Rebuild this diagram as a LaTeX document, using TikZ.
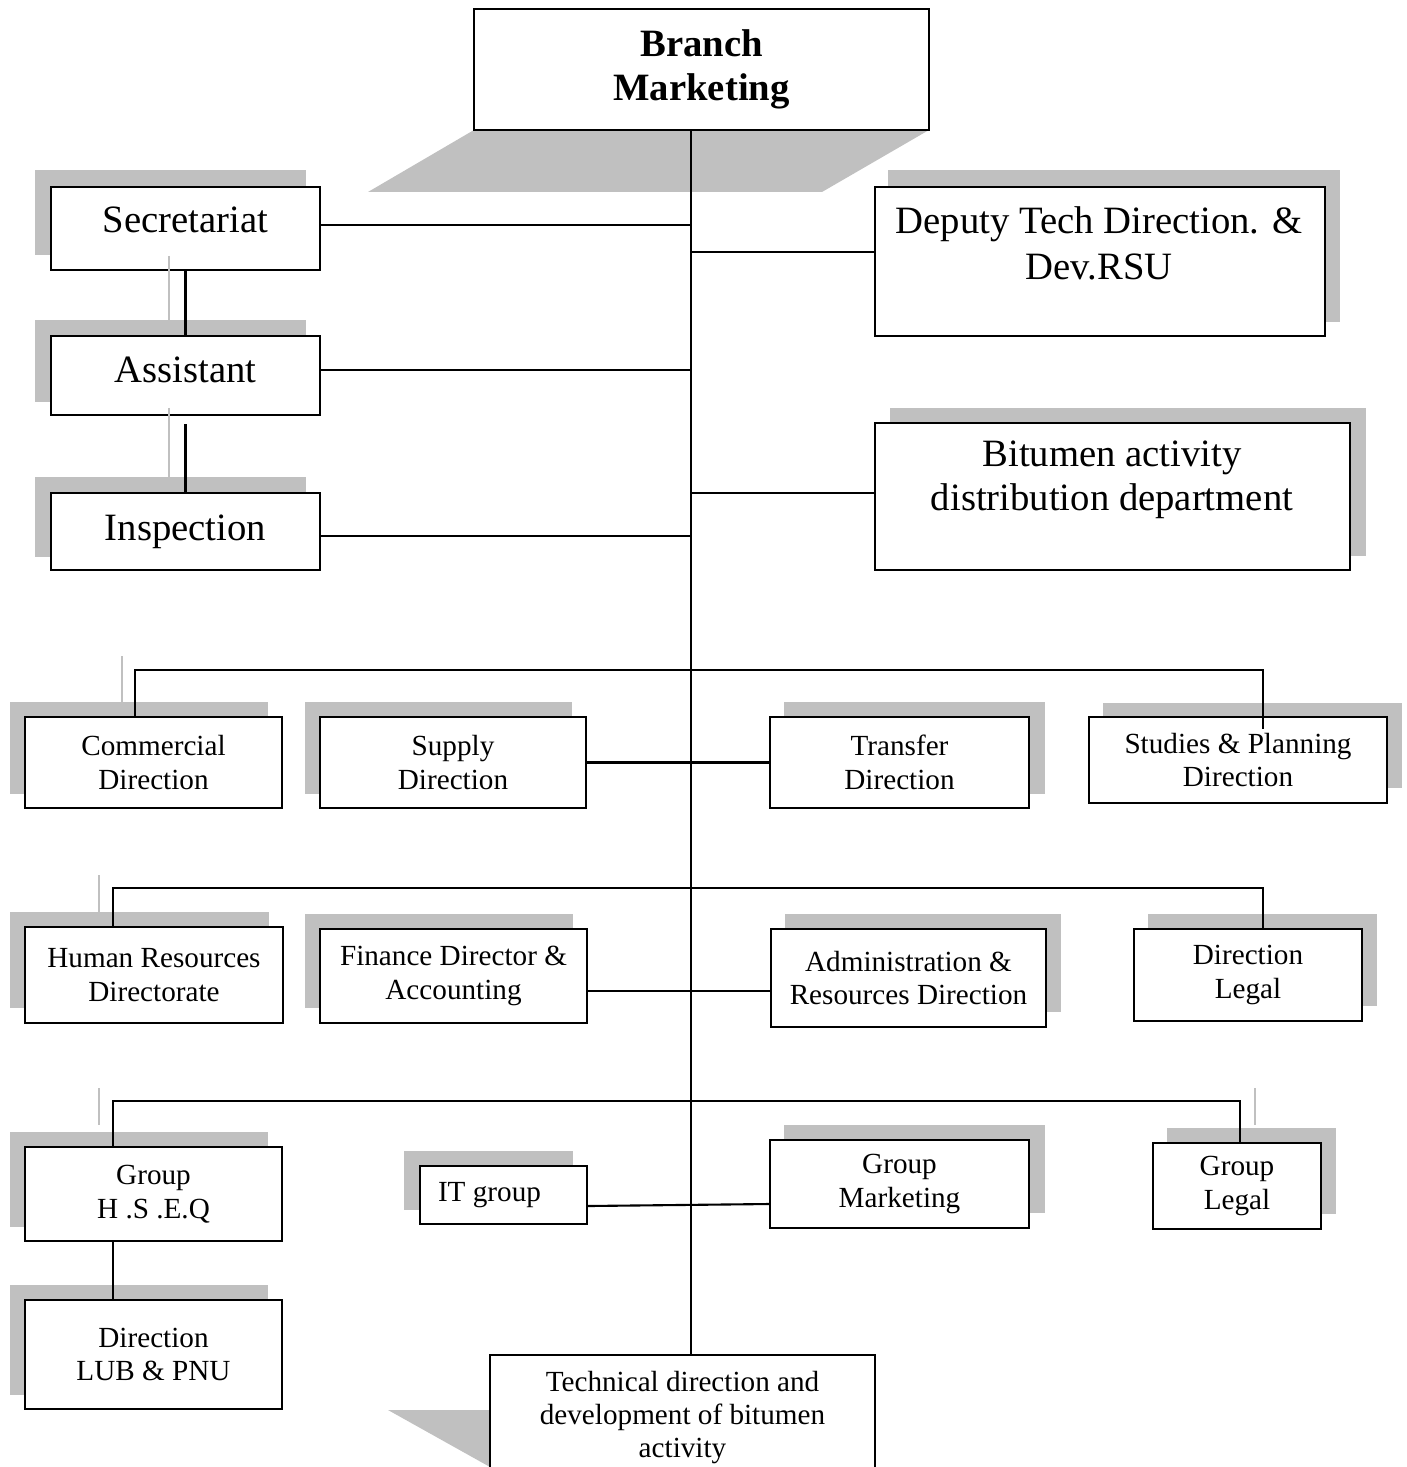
\documentclass[tikz,border=0pt]{standalone}
\usepackage{fontspec}
\setmainfont{Liberation Serif}
\definecolor{shadowgray}{RGB}{192,192,192}

\begin{document}
\begin{tikzpicture}[x=0.01cm,y=-0.01cm,
  box/.style={draw,fill=white,line width=0.6pt,inner sep=0pt,align=center},
  bigbox/.style={box,font=\fontsize{11}{12.8}\selectfont},
  smallbox/.style={box,font=\fontsize{8.3}{9.5}\selectfont},
  conn/.style={line width=0.6pt},
  shade/.style={fill=shadowgray},
  shadeline/.style={draw=shadowgray,line width=0.4pt}]
  \useasboundingbox (0,0) rectangle (1407,1467);
  \clip (0,0) rectangle (1407,1467);
  % Shadows behind the boxes
  \fill[shade] (474,130) -- (929,130) -- (822,192) -- (368,192) -- cycle;
  \fill[shade] (388,1410) -- (700,1410) -- (700,1467) -- (490,1467) -- cycle;
  \foreach \a/\b/\c/\d in {35/170/306/255, 35/320/306/402, 35/477/306/557,
      888/170/1340/322, 890/408/1366/556,
      10/702/268/794, 305/702/572/794, 784/702/1045/794, 1103/703/1402/788,
      10/912/269/1008, 305/914/573/1008, 785/914/1061/1012, 1148/914/1377/1006,
      10/1132/268/1227, 404/1151/573/1210, 784/1125/1045/1213, 1167/1128/1336/1214,
      10/1285/268/1395} {
    \fill[shade] (\a,\b) rectangle (\c,\d);
  }
  % Spine position and drop points
  \coordinate (spine) at (691,0);
  \coordinate (dropa) at (135,670);
  \coordinate (dropb) at (1263,670);
  \coordinate (dropc) at (113,888);
  \coordinate (dropd) at (1263,888);
  \coordinate (drope) at (113,1101);
  \coordinate (dropf) at (1240,1101);
  % Head
  \node[bigbox,minimum width=4.55cm,minimum height=1.21cm,font=\fontsize{11}{12.6}\selectfont\bfseries] (branch) at (701.5,69.5) {Branch\\Marketing};
  % Staff column on the left
  \node[bigbox,minimum width=2.69cm,minimum height=0.83cm] (secr) at (185.5,228.5) {\raisebox{0.09cm}[\height][\depth]{Secretariat}};
  \node[bigbox,minimum width=2.69cm,minimum height=0.79cm] (asst) at (185.5,375.5) {\raisebox{0.06cm}[\height][\depth]{Assistant}};
  \node[bigbox,minimum width=2.69cm,minimum height=0.77cm] (insp) at (185.5,531.5) {Inspection};
  % Right column
  \node[box,minimum width=4.50cm,minimum height=1.49cm] (deputy) at (1100,261.5) {};
  \node[font=\fontsize{11}{13}\selectfont,align=center,inner sep=0pt] (deputytxt) at (1099,243) {Deputy Tech Direction. \&\\Dev.RSU};
  \node[box,minimum width=4.75cm,minimum height=1.47cm] (bitumen) at (1112.5,496.5) {};
  \node[font=\fontsize{11}{12.4}\selectfont,align=center,inner sep=0pt] (bitumentxt) at (1112,480) {Bitumen activity\\distribution department};
  % First row of directions
  \node[smallbox,minimum width=2.57cm,minimum height=0.91cm] (comm) at (153.5,762.5) {Commercial\\Direction};
  \node[smallbox,minimum width=2.66cm,minimum height=0.91cm] (supply) at (453,762.5) {Supply\\Direction};
  \node[smallbox,minimum width=2.59cm,minimum height=0.91cm] (transfer) at (899.5,762.5) {Transfer\\Direction};
  \node[smallbox,minimum width=2.98cm,minimum height=0.86cm] (studies) at (1238,760) {Studies \& Planning\\Direction};
  % Second row
  \node[smallbox,minimum width=2.58cm,minimum height=0.96cm] (hr) at (154,975) {Human Resources\\Directorate};
  \node[smallbox,minimum width=2.67cm,minimum height=0.94cm] (fin) at (453.5,976) {Finance Director \&\\Accounting};
  \node[smallbox,minimum width=2.75cm,minimum height=0.98cm] (admin) at (908.5,978) {Administration \&\\Resources Direction};
  \node[smallbox,minimum width=2.28cm,minimum height=0.92cm] (legal) at (1248,975) {Direction\\Legal};
  % Third row
  \node[smallbox,minimum width=2.57cm,minimum height=0.94cm] (hseq) at (153.5,1194) {Group\\H .S .E.Q};
  \node[smallbox,minimum width=1.67cm,minimum height=0.58cm] (it) at (503.5,1195) {IT group\hspace{0.28cm}};
  \node[smallbox,minimum width=2.59cm,minimum height=0.88cm] (gmkt) at (899.5,1184) {Group\\Marketing};
  \node[smallbox,minimum width=1.68cm,minimum height=0.86cm] (glegal) at (1237,1186) {Group\\Legal};
  \node[smallbox,minimum width=2.57cm,minimum height=1.09cm] (lub) at (153.5,1354.5) {Direction\\LUB \& PNU};
  % Bottom
  \node[smallbox,minimum width=3.85cm,minimum height=1.25cm] (tech) at (682.5,1417.5) {Technical direction and\\development of bitumen\\activity};
  % Links
  \draw[conn] (branch.south -| spine) -- (tech.north -| spine);
  \draw[conn] ([yshift=0.035cm]secr.east) -- ([yshift=0.035cm]secr.east -| spine);
  \draw[conn] ([yshift=0.055cm]asst.east) -- ([yshift=0.055cm]asst.east -| spine);
  \draw[conn] ([yshift=-0.045cm]insp.east) -- ([yshift=-0.045cm]insp.east -| spine);
  \draw[conn] ([yshift=0.095cm]deputy.west -| spine) -- ([yshift=0.095cm]deputy.west);
  \draw[conn] ([yshift=0.035cm]bitumen.west -| spine) -- ([yshift=0.035cm]bitumen.west);
  \draw[conn] (secr.south) -- (asst.north);
  \draw[conn] ([yshift=-0.08cm]asst.south) -- (insp.north);
  \draw[conn] (comm.north -| dropa) |- (dropb) -- ([yshift=-0.13cm]studies.north -| dropb);
  \draw[conn] (supply.east) -- (transfer.west);
  \draw[conn] (hr.north -| dropc) |- (dropd) -- (legal.north -| dropd);
  \draw[conn] ([yshift=-0.15cm]fin.east) -- ([yshift=-0.15cm]fin.east -| admin.west);
  \draw[conn] (hseq.north -| drope) |- (dropf) -- (glegal.north -| dropf);
  \draw[conn] ([yshift=-0.11cm]it.east) -- ([yshift=-0.2cm]gmkt.west);
  \draw[conn] (hseq.south -| drope) -- (lub.north -| drope);
  % Faint shadow strokes
  \foreach \x/\p/\q in {169/256/322, 169/408/478, 122/656/703, 99/875/912, 99/1088/1125, 1255/1088/1125} {
    \draw[shadeline] (\x,\p) -- (\x,\q);
  }
\end{tikzpicture}
\end{document}
